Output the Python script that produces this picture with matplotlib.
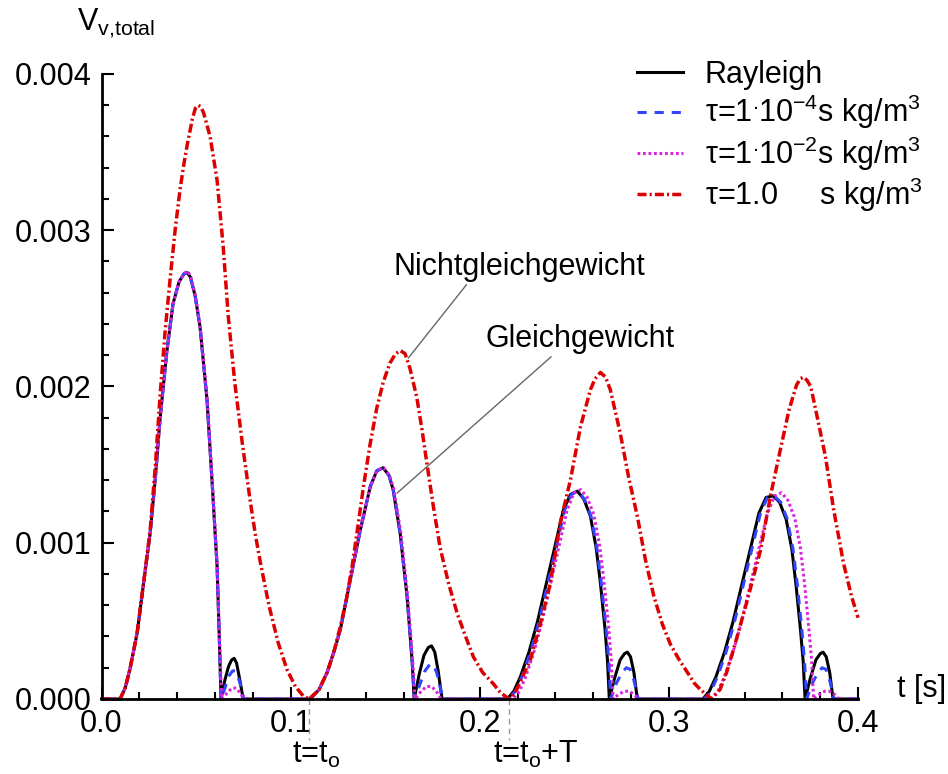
import matplotlib
matplotlib.use("Agg")
import matplotlib.pyplot as plt
from matplotlib.ticker import MultipleLocator, FormatStrFormatter

plt.rcParams['font.family'] = ['Liberation Sans', 'DejaVu Sans']
plt.rcParams['mathtext.fontset'] = 'custom'
plt.rcParams['mathtext.rm'] = 'Liberation Sans'
plt.rcParams['mathtext.it'] = 'Liberation Sans:italic'
plt.rcParams['mathtext.bf'] = 'Liberation Sans:bold'

# ---- data (t in s, V_v,total) ----
rayleigh_t = [0.0, 0.0098, 0.0125, 0.015, 0.0188, 0.022, 0.0257, 0.0285, 0.031, 0.0345, 0.0378, 0.041, 0.0435, 0.0452, 0.047, 0.0495, 0.0521, 0.0558, 0.0585, 0.0611, 0.0622, 0.0632,
              0.0652, 0.0672, 0.0688, 0.0701, 0.0714, 0.073, 0.0749,
              0.1103, 0.115, 0.1193, 0.1228, 0.1262, 0.1315, 0.1368, 0.1421, 0.1455, 0.1489, 0.152, 0.1542, 0.1579, 0.1616, 0.1643, 0.1653,
              0.168, 0.1705, 0.1728, 0.1745, 0.1762, 0.178, 0.180,
              0.2146, 0.218, 0.2214, 0.226, 0.2304, 0.2373, 0.2442, 0.248, 0.2516, 0.255, 0.2585, 0.2615, 0.2638, 0.2662, 0.2675, 0.2685,
              0.2712, 0.2742, 0.2765, 0.278, 0.2797, 0.2815, 0.2833,
              0.318, 0.3214, 0.3248, 0.3294, 0.3338, 0.3407, 0.3476, 0.3514, 0.3551, 0.3585, 0.362, 0.365, 0.3672, 0.3696, 0.371, 0.372,
              0.3747, 0.3777, 0.38, 0.3815, 0.3832, 0.385, 0.3868, 0.4]
rayleigh_v = [0, 0, 0.00007, 0.00019, 0.00042, 0.00072, 0.00106, 0.00142, 0.0018, 0.00222, 0.00253, 0.00267, 0.00272, 0.00273, 0.0027, 0.00258, 0.00238, 0.00191, 0.00138, 0.00085, 0.00042, 0,
              0.00012, 0.00021, 0.00025, 0.00026, 0.00023, 0.00013, 0,
              0, 0.00006, 0.00017, 0.0003, 0.00044, 0.00076, 0.00108, 0.00136, 0.00146, 0.00148, 0.00143, 0.00134, 0.00106, 0.00065, 0.00023, 0,
              0.00016, 0.00028, 0.00033, 0.00034, 0.0003, 0.00018, 0,
              0, 0.00005, 0.00014, 0.0003, 0.00049, 0.00085, 0.00121, 0.00131, 0.00133, 0.00128, 0.00117, 0.00097, 0.00074, 0.00045, 0.00025, 0,
              0.00013, 0.00025, 0.00029, 0.0003, 0.00027, 0.00017, 0,
              0, 0.00005, 0.00014, 0.0003, 0.00049, 0.00084, 0.00119, 0.00129, 0.0013, 0.00126, 0.00115, 0.00096, 0.00073, 0.00044, 0.00024, 0,
              0.00013, 0.00025, 0.00029, 0.0003, 0.00027, 0.00017, 0, 0]

tau4_t = [0.0, 0.0098, 0.0125, 0.015, 0.0188, 0.022, 0.0257, 0.0285, 0.031, 0.0345, 0.0378, 0.041, 0.0435, 0.0452, 0.047, 0.0495, 0.0521, 0.0558, 0.0585, 0.0611, 0.0622, 0.0632,
          0.0655, 0.0675, 0.0693, 0.0708, 0.0725, 0.0742, 0.0752,
          0.1103, 0.115, 0.1193, 0.1228, 0.1262, 0.1315, 0.1368, 0.1421, 0.1455, 0.1489, 0.152, 0.1542, 0.1579, 0.1616, 0.1643, 0.1655,
          0.1685, 0.171, 0.1735, 0.1755, 0.1772, 0.179, 0.1805,
          0.2154, 0.2188, 0.2222, 0.2268, 0.2312, 0.2381, 0.2449, 0.2485, 0.2518, 0.2553, 0.2588, 0.2619, 0.2643, 0.2668, 0.2682, 0.2692,
          0.2722, 0.2752, 0.2775, 0.2795, 0.2815, 0.2838,
          0.3188, 0.3222, 0.3256, 0.3302, 0.3346, 0.3415, 0.3484, 0.3521, 0.3555, 0.3591, 0.3626, 0.3656, 0.3679, 0.3703, 0.3717, 0.3728,
          0.3758, 0.3788, 0.381, 0.383, 0.385, 0.3874, 0.4]
tau4_v = [0, 0, 0.00007, 0.00019, 0.00042, 0.00072, 0.00106, 0.00142, 0.0018, 0.00222, 0.00253, 0.00267, 0.00272, 0.00273, 0.0027, 0.00258, 0.00238, 0.00191, 0.00138, 0.00085, 0.00042, 0,
          0.00008, 0.00015, 0.00018, 0.00018, 0.00013, 0.00006, 0,
          0, 0.00006, 0.00017, 0.0003, 0.00044, 0.00076, 0.00108, 0.00136, 0.00146, 0.00148, 0.00143, 0.00134, 0.00106, 0.00065, 0.00023, 0,
          0.0001, 0.00018, 0.00022, 0.00022, 0.00017, 0.00008, 0,
          0, 0.00005, 0.00014, 0.0003, 0.00049, 0.00085, 0.00121, 0.00131, 0.00133, 0.00128, 0.00117, 0.00097, 0.00074, 0.00045, 0.00025, 0,
          0.0001, 0.00017, 0.0002, 0.00019, 0.00012, 0,
          0, 0.00005, 0.00014, 0.0003, 0.00049, 0.00084, 0.00119, 0.00129, 0.0013, 0.00126, 0.00115, 0.00096, 0.00073, 0.00044, 0.00024, 0,
          0.0001, 0.00017, 0.0002, 0.00019, 0.00012, 0, 0]

tau2_t = [0.0, 0.0098, 0.0125, 0.015, 0.0188, 0.022, 0.0257, 0.0285, 0.031, 0.0345, 0.0378, 0.041, 0.0435, 0.0452, 0.047, 0.0495, 0.0521, 0.0558, 0.0585, 0.0611, 0.0622, 0.0635,
          0.0665, 0.069, 0.0712, 0.0732, 0.0752,
          0.1103, 0.115, 0.1193, 0.1228, 0.1262, 0.1315, 0.1368, 0.1421, 0.1455, 0.1492, 0.1523, 0.1546, 0.1583, 0.1619, 0.1646, 0.1658,
          0.169, 0.1718, 0.1745, 0.177, 0.1795,
          0.2175, 0.221, 0.2242, 0.2286, 0.2328, 0.2395, 0.2462, 0.2498, 0.2535, 0.2568, 0.2603, 0.2634, 0.2657, 0.2682, 0.2695, 0.2705,
          0.2735, 0.2765, 0.279, 0.2815, 0.284,
          0.3225, 0.3259, 0.3293, 0.3339, 0.3383, 0.3452, 0.3521, 0.3559, 0.3596, 0.363, 0.3665, 0.3695, 0.3717, 0.3741, 0.3755, 0.3765,
          0.3795, 0.3825, 0.385, 0.3875, 0.39, 0.4]
tau2_v = [0, 0, 0.00007, 0.00019, 0.00042, 0.00072, 0.00106, 0.00142, 0.0018, 0.00222, 0.00253, 0.00267, 0.00272, 0.00274, 0.00271, 0.00259, 0.00239, 0.00193, 0.0014, 0.00087, 0.00044, 0,
          0.00004, 0.00007, 0.00007, 0.00004, 0,
          0, 0.00006, 0.00017, 0.0003, 0.00044, 0.00076, 0.00108, 0.00136, 0.00146, 0.00148, 0.00143, 0.00134, 0.00106, 0.00065, 0.00023, 0,
          0.00005, 0.00008, 0.00008, 0.00005, 0,
          0, 0.00005, 0.00014, 0.0003, 0.00049, 0.00085, 0.00121, 0.00132, 0.00134, 0.00129, 0.00118, 0.00098, 0.00075, 0.00045, 0.00025, 0,
          0.00003, 0.00005, 0.00005, 0.00003, 0,
          0, 0.00005, 0.00014, 0.0003, 0.00049, 0.00084, 0.00119, 0.0013, 0.00132, 0.00127, 0.00116, 0.00097, 0.00074, 0.00044, 0.00024, 0,
          0.00003, 0.00005, 0.00005, 0.00003, 0, 0]

tau0_t = [0.0, 0.0098, 0.0125, 0.015, 0.0188, 0.022, 0.0257, 0.0285, 0.031, 0.0336, 0.0362, 0.0389, 0.0415, 0.0435, 0.0452, 0.048, 0.0496, 0.0511, 0.0525, 0.054, 0.0574, 0.0611, 0.0643, 0.067, 0.0705, 0.0743, 0.0787, 0.0815, 0.0839, 0.0885, 0.0934, 0.098, 0.1025, 0.1066, 0.1098,
          0.115, 0.1193, 0.1228, 0.1262, 0.1295, 0.1325, 0.1355, 0.1385, 0.142, 0.1455, 0.149, 0.1525, 0.1555, 0.158, 0.1605, 0.163, 0.1667, 0.1695, 0.172, 0.1755, 0.179, 0.1835, 0.188, 0.1925, 0.1966, 0.2015, 0.207, 0.211, 0.2155,
          0.2195, 0.2267, 0.232, 0.2373, 0.2426, 0.2479, 0.2532, 0.2585, 0.261, 0.2638, 0.2665, 0.269, 0.2743, 0.2787, 0.2833, 0.2876, 0.292, 0.2965, 0.3008, 0.305, 0.3098, 0.3135, 0.3167, 0.3225,
          0.327, 0.3305, 0.334, 0.3414, 0.3484, 0.3537, 0.359, 0.3635, 0.3675, 0.3695, 0.3712, 0.373, 0.375, 0.3785, 0.3828, 0.387, 0.3923, 0.3965, 0.4]
tau0_v = [0, 0, 0.00007, 0.00019, 0.00042, 0.00072, 0.00108, 0.0015, 0.00195, 0.00235, 0.00268, 0.003, 0.00326, 0.00342, 0.00354, 0.00371, 0.00378, 0.0038, 0.00379, 0.00375, 0.0036, 0.00332, 0.0029, 0.00245, 0.00202, 0.00165, 0.00126, 0.00104, 0.00088, 0.0006, 0.00036, 0.00019, 0.00008, 0.00002, 0,
          0.00006, 0.00017, 0.0003, 0.00046, 0.00064, 0.00085, 0.0011, 0.00136, 0.00163, 0.00186, 0.00203, 0.00215, 0.00221, 0.00223, 0.00221, 0.00212, 0.00193, 0.00172, 0.00151, 0.00123, 0.00097, 0.00074, 0.00055, 0.0004, 0.00027, 0.00017, 0.0001, 0.00004, 0,
          0.00006, 0.00025, 0.00048, 0.00074, 0.00113, 0.0014, 0.00174, 0.00198, 0.00205, 0.00209, 0.00206, 0.00198, 0.0017, 0.00142, 0.00117, 0.00089, 0.00066, 0.00048, 0.00035, 0.00026, 0.00017, 0.0001, 0.00006, 0,
          0.00006, 0.00017, 0.00031, 0.00063, 0.00095, 0.0013, 0.0016, 0.00185, 0.00201, 0.00205, 0.00206, 0.00204, 0.002, 0.0018, 0.00155, 0.00122, 0.00087, 0.00066, 0.00052]

labels = ['Rayleigh',
          r'τ=$1^{.}\!10^{-4}$s kg/m$^{3}$',
          r'τ=$1^{.}\!10^{-2}$s kg/m$^{3}$',
          r'τ=1.0     s kg/m$^{3}$']

t_o = 0.1098
t_o_T = 0.2155

fs = 22

fig = plt.figure(figsize=(9.48, 7.74), dpi=100)
ax = fig.add_axes([0.1071, 0.0969, 0.798, 0.8075])

lw = 2.2
ax.plot(rayleigh_t, rayleigh_v, color='black', lw=lw, label=labels[0], clip_on=False)
ax.plot(tau4_t, tau4_v, color='#3344ff', lw=lw, dashes=(3, 2.6), label=labels[1], clip_on=False)
ax.plot(tau2_t, tau2_v, color='#dd22dd', lw=lw, dashes=(0.9, 0.9), label=labels[2], clip_on=False)
ax.plot(tau0_t, tau0_v, color='#dd0000', lw=lw + 0.3, dashes=(2.6, 0.9, 0.6, 0.9), label=labels[3], clip_on=False)

ax.set_xlim(0, 0.4)
ax.set_ylim(0, 0.004)
for s in ['top', 'right']:
    ax.spines[s].set_visible(False)
for s in ['left', 'bottom']:
    ax.spines[s].set_linewidth(2)

ax.xaxis.set_major_locator(MultipleLocator(0.1))
ax.xaxis.set_minor_locator(MultipleLocator(0.02))
ax.yaxis.set_major_locator(MultipleLocator(0.001))
ax.yaxis.set_minor_locator(MultipleLocator(0.0002))
ax.xaxis.set_major_formatter(FormatStrFormatter('%.1f'))
ax.yaxis.set_major_formatter(FormatStrFormatter('%.3f'))
ax.tick_params(which='major', direction='in', length=8.5, width=1.5, labelsize=fs, pad=7)
ax.tick_params(which='minor', direction='in', length=5, width=1.5)

# axis titles
fig.text(77 / 948, 1 - 30 / 774, r'V$_{\rm v{,}total}$', fontsize=fs, va='baseline', ha='left')
fig.text(897 / 948, 1 - 697 / 774, 't [s]', fontsize=fs, va='baseline', ha='left')

# t = t_o markers below the axis
xt = ax.get_xaxis_transform()
for tm in [t_o, t_o_T]:
    ax.plot([tm, tm], [0, -0.066], transform=xt, color='#999999',
            lw=1, ls=(0, (4, 3)), clip_on=False)
ax.text(t_o - 0.009, -(763 - 699) / 625, r't=t$_{\rm o}$', transform=xt,
        fontsize=fs, va='baseline', ha='left')
ax.text(t_o_T - 0.0084, -(763 - 699) / 625, r't=t$_{\rm o}$+T', transform=xt,
        fontsize=fs, va='baseline', ha='left')

# annotations
ax.annotate('Nichtgleichgewicht', xy=(0.1622, 0.002182), xytext=(0.1542, 0.002714),
            fontsize=fs, va='baseline', ha='left',
            arrowprops=dict(arrowstyle='-', color='#666666', lw=1, shrinkA=0, shrinkB=0,
                            relpos=(0.30, 0.0)))
ax.annotate('Gleichgewicht', xy=(0.1563, 0.001318), xytext=(0.2029, 0.002253),
            fontsize=fs, va='baseline', ha='left',
            arrowprops=dict(arrowstyle='-', color='#666666', lw=1, shrinkA=0, shrinkB=0,
                            relpos=(0.365, 0.0)))

leg = fig.legend(loc='upper left', bbox_to_anchor=(637 / 948, 1 - 60 / 774), frameon=False,
                 fontsize=fs, handlelength=1.5, handletextpad=0.72, labelspacing=0.1,
                 borderpad=0, borderaxespad=0)

fig.savefig('out.png', dpi=100)
